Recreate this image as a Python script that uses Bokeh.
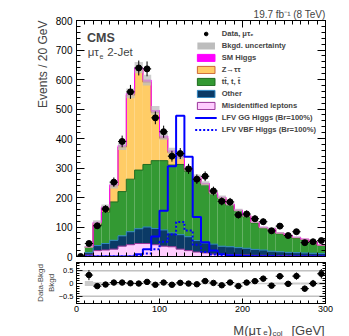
import numpy as np
from bokeh.plotting import figure
from bokeh.models import (ColumnDataSource, Legend, LegendItem, LinearAxis, Range1d,
                          SingleIntervalTicker, Span, Label, Title, CustomJSTickFormatter)
from bokeh.layouts import column
from bokeh.embed import file_html
from bokeh.resources import INLINE

# ---------------- data (bins of 10 GeV, lower edges 0..290) ----------------
bin_lo = list(range(0, 300, 10))
data   = [0, 44, 104, 161, 252, 390, 558, 639, 636, 470, 423, 340, 349, 297, 262,
          272, 222, 187, 185, 141, 144, 128, 118, 87, 103, 71, 84, 47, 50, 54]
fakes  = [0, 5, 20, 22, 25, 35, 40, 44, 44, 40, 35, 33, 25, 20, 15,
          12, 8, 7, 6, 5, 5, 4, 4, 3, 3, 3, 2, 2, 2, 2]
other  = [0, 8, 17, 22, 30, 35, 44, 50, 56, 55, 55, 47, 49, 47, 39,
          34, 34, 28, 27, 25, 23, 20, 18, 15, 13, 11, 11, 10, 9, 8]
ttbar  = [0, 18, 68, 106, 130, 150, 178, 199, 212, 230, 235, 230, 238, 221, 208,
          196, 170, 160, 140, 123, 107, 90, 74, 74, 61, 55, 49, 44, 37, 27]
ztt    = [0, 1, 8, 14, 54, 151, 285, 340, 279, 163, 76, 42, 23, 6, 5,
          4, 3, 5, 4, 3, 3, 2, 2, 2, 2, 2, 2, 2, 1, 1]
smh    = [0, 1, 3, 4, 4, 5, 6, 7, 7, 7, 7, 6, 5, 4, 3,
          2, 2, 1, 1, 1, 1, 1, 1, 1, 1, 1, 1, 1, 1, 1]
unc    = [0, 0.10, 0.06, 0.05, 0.05, 0.04, 0.03, 0.03, 0.03, 0.03, 0.03, 0.03, 0.03, 0.03, 0.03,
          0.03, 0.03, 0.03, 0.03, 0.03, 0.03, 0.03, 0.03, 0.04, 0.04, 0.04, 0.04, 0.04, 0.05, 0.05]
lfv_gg  = [0, 0, 0, 0, 0, 0, 0, 8, 25, 68, 155, 306, 477, 338, 134,
           48, 20, 8, 4, 3, 2, 1, 1, 1, 0, 0, 0, 0, 0, 0]
lfv_vbf = [0, 0, 0, 0, 0, 0, 0, 3, 10, 25, 50, 75, 117, 88, 40,
           15, 7, 3, 2, 1, 1, 0, 0, 0, 0, 0, 0, 0, 0, 0]

BW = 10
lo = np.array(bin_lo, float)
ctr = lo + BW / 2
edges = np.append(lo, lo[-1] + BW)
d = np.array(data, float)
c1 = np.array(fakes, float)
c2 = c1 + np.array(other, float)
c3 = c2 + np.array(ttbar, float)
c4 = c3 + np.array(ztt, float)
c5 = c4 + np.array(smh, float)
B = c5
u = np.array(unc, float)

FONT = "Liberation Sans"
C_FAKE, L_FAKE = "#FFCCFF", "#993399"
C_OTH, L_OTH = "#0B3A66", "#2E86C1"
C_TT, L_TT = "#339933", "#1E6B1E"
C_Z, L_Z = "#FFCC66", "#CC6633"
C_H = "#FF00FF"
C_UNC = "#BDBDBD"
C_SIG = "#0000FF"

W = 349
BL, BR = 76, 24
H1, H2, H3 = 261, 55, 20

blank = CustomJSTickFormatter(code="return ''")

def style_axis(ax, tin, min_in, size, labels=True):
    ax.major_tick_in = tin
    ax.major_tick_out = 0
    ax.minor_tick_in = min_in
    ax.minor_tick_out = 0
    ax.axis_line_color = "black"
    ax.major_tick_line_color = "black"
    ax.minor_tick_line_color = "black"
    ax.major_label_text_font = FONT
    ax.major_label_text_color = "black"
    if labels:
        ax.major_label_text_font_size = size
        ax.major_label_standoff = 4
    else:
        ax.formatter = blank
        ax.major_label_text_font_size = "1px"
        ax.major_label_standoff = 0

# ---------------- main panel ----------------
p = figure(width=W, height=H1, x_range=Range1d(0, 300), y_range=Range1d(0, 800),
           output_backend="svg", toolbar_location=None,
           min_border_left=BL, min_border_right=BR, min_border_top=20, min_border_bottom=5)
p.grid.visible = False
p.outline_line_color = "black"
p.background_fill_color = "white"
p.border_fill_color = "white"

xt = SingleIntervalTicker(interval=100, num_minor_ticks=10)
yt = SingleIntervalTicker(interval=100, num_minor_ticks=5)
p.xaxis.ticker = xt
p.yaxis.ticker = yt
style_axis(p.xaxis[0], 7, 4, "1px", labels=False)
style_axis(p.yaxis[0], 8, 4, "10px")
ax_r = LinearAxis(ticker=yt)
style_axis(ax_r, 8, 4, "1px", labels=False)
p.add_layout(ax_r, "right")
ax_t = LinearAxis(ticker=xt)
style_axis(ax_t, 7, 4, "1px", labels=False)
p.add_layout(ax_t, "above")

p.add_layout(Title(text="19.7 fb\u207b\u00b9 (8 TeV)", align="right", text_font=FONT,
                   text_font_size="10px", text_font_style="normal", standoff=1), "above")
p.add_layout(Title(text="Events / 20 GeV", align="right", text_font=FONT,
                   text_font_size="12px", text_font_style="normal", standoff=6), "left")

src = ColumnDataSource(dict(x=ctr, c1=c1, c2=c2, c3=c3, c4=c4, c5=c5,
                            ulo=B * (1 - u), uhi=B * (1 + u)))
p.vbar(x="x", width=BW, bottom=0, top="c1", source=src, fill_color=C_FAKE, line_color=None)
p.vbar(x="x", width=BW, bottom="c1", top="c2", source=src, fill_color=C_OTH, line_color=None)
p.vbar(x="x", width=BW, bottom="c2", top="c3", source=src, fill_color=C_TT, line_color=None)
p.vbar(x="x", width=BW, bottom="c3", top="c4", source=src, fill_color=C_Z, line_color=None)
p.vbar(x="x", width=BW, bottom="c4", top="c5", source=src, fill_color=C_H, line_color=None)

def stepy(arr):
    return np.append(arr, arr[-1])

p.step(x=edges[1:], y=stepy(c1)[1:], mode="after", line_color=L_FAKE, line_width=1)
p.step(x=edges[1:], y=stepy(c2)[1:], mode="after", line_color=L_OTH, line_width=1)
p.step(x=edges[1:], y=stepy(c3)[1:], mode="after", line_color=L_TT, line_width=1)
p.step(x=edges[1:], y=stepy(c4)[1:], mode="after", line_color=L_Z, line_width=1)
p.step(x=edges[1:], y=stepy(c5)[1:], mode="after", line_color=C_H, line_width=1)

p.vbar(x="x", width=BW, bottom="ulo", top="uhi", source=src,
       fill_color=C_UNC, fill_alpha=0.75, line_color=None)

r_gg = p.step(x=edges[1:], y=stepy(np.array(lfv_gg, float))[1:], mode="after",
              line_color=C_SIG, line_width=2)
r_vbf = p.step(x=edges[1:], y=stepy(np.array(lfv_vbf, float))[1:], mode="after",
               line_color=C_SIG, line_width=2, line_dash="2 2")

err = np.sqrt(d)
p.segment(x0=ctr, y0=d - err, x1=ctr, y1=d + err, line_color="black", line_width=1)
p.segment(x0=lo, y0=d, x1=lo + BW, y1=d, line_color="black", line_width=1)
r_data = p.scatter(x=ctr, y=d, size=6, marker="circle", fill_color="black", line_color="black")

# legend-only renderers (a single NaN row: nothing is drawn in the plot)
def legend_box(fill, line):
    nan = [np.nan]
    return p.quad(left=nan, right=nan, top=nan, bottom=nan, fill_color=fill,
                  line_color=line, line_width=1)

r_lunc = legend_box(C_UNC, None)
r_lh = legend_box(C_H, C_H)
r_lz = legend_box(C_Z, L_Z)
r_ltt = legend_box(C_TT, L_TT)
r_loth = legend_box(C_OTH, L_OTH)
r_lfake = legend_box(C_FAKE, L_FAKE)

items = [
    LegendItem(label="Data, \u03bc\u03c4\u2091", renderers=[r_data]),
    LegendItem(label="Bkgd. uncertainty", renderers=[r_lunc]),
    LegendItem(label="SM Higgs", renderers=[r_lh]),
    LegendItem(label="Z\u2192\u03c4\u03c4", renderers=[r_lz]),
    LegendItem(label="tt\u0304, t, t\u0304", renderers=[r_ltt]),
    LegendItem(label="Other", renderers=[r_loth]),
    LegendItem(label="Misidentified leptons", renderers=[r_lfake]),
    LegendItem(label="LFV GG Higgs (Br=100%)", renderers=[r_gg]),
    LegendItem(label="LFV VBF Higgs (Br=100%)", renderers=[r_vbf]),
]
leg = Legend(items=items, location="top_right", margin=9, padding=0, spacing=3,
             glyph_width=22, glyph_height=9, label_height=9, label_standoff=5,
             label_text_font=FONT, label_text_font_size="7.6px", label_text_font_style="bold",
             border_line_alpha=0, background_fill_alpha=0)
p.add_layout(leg)

p.add_layout(Label(x=12.6, y=741, text="CMS", text_font=FONT, text_font_size="12.5px",
                   text_font_style="bold", text_baseline="alphabetic"))
p.add_layout(Label(x=13.5, y=692, text="\u03bc\u03c4", text_font=FONT, text_font_size="11.5px",
                   text_baseline="alphabetic"))
p.add_layout(Label(x=27.8, y=679, text="e", text_font=FONT, text_font_size="7px",
                   text_baseline="alphabetic"))
p.add_layout(Label(x=37, y=692, text="2-Jet", text_font=FONT, text_font_size="11.5px",
                   text_baseline="alphabetic"))

# ---------------- ratio panel ----------------
q = figure(width=W, height=H2, x_range=p.x_range, y_range=Range1d(-0.79, 0.83),
           output_backend="svg", toolbar_location=None,
           min_border_left=BL, min_border_right=BR, min_border_top=1, min_border_bottom=13)
q.grid.visible = False
q.outline_line_color = "black"
xt2 = SingleIntervalTicker(interval=100, num_minor_ticks=10)
yt2 = SingleIntervalTicker(interval=0.5, num_minor_ticks=5)
q.xaxis.ticker = xt2
q.yaxis.ticker = yt2
style_axis(q.xaxis[0], 5, 3, "9px")
q.xaxis[0].major_label_standoff = 2
style_axis(q.yaxis[0], 6, 3, "7.5px")
q.yaxis[0].major_label_standoff = 3
axr2 = LinearAxis(ticker=yt2)
style_axis(axr2, 6, 3, "1px", labels=False)
q.add_layout(axr2, "right")
axt2 = LinearAxis(ticker=xt2)
style_axis(axt2, 5, 3, "1px", labels=False)
q.add_layout(axt2, "above")
q.add_layout(Title(text="Bkgd", align="center", text_font=FONT, text_font_size="8px",
                   text_font_style="normal", standoff=0), "left")
q.add_layout(Title(text="Data-Bkgd", align="center", text_font=FONT, text_font_size="8px",
                   text_font_style="normal", standoff=0), "left")

mask = B > 0
rat = d[mask] / B[mask] - 1
rerr = np.sqrt(d[mask]) / B[mask]
q.vbar(x=ctr[mask], width=BW, bottom=-u[mask], top=u[mask], fill_color="#CCCCCC",
       line_color=None)
for lvl in (0.5, -0.5):
    q.add_layout(Span(location=lvl, dimension="width", line_color="#444444",
                      line_dash="1 1", line_width=1))
q.segment(x0=ctr[mask], y0=rat - rerr, x1=ctr[mask], y1=rat + rerr, line_color="black")
q.segment(x0=lo[mask], y0=rat, x1=lo[mask] + BW, y1=rat, line_color="black")
q.scatter(x=ctr[mask], y=rat, size=5.5, marker="circle", fill_color="black", line_color="black")

# ---------------- x-axis title strip (frame aligned with the panels above) ----------------
s = figure(width=W, height=H3, x_range=p.x_range, y_range=Range1d(0, H3),
           output_backend="svg", toolbar_location=None, x_axis_type=None, y_axis_type=None,
           min_border_left=BL, min_border_right=BR, min_border_top=0, min_border_bottom=0)
s.grid.visible = False
s.outline_line_color = None
XF = "13px"
s.add_layout(Label(x=189, y=6, text="M(\u03bc\u03c4", text_font=FONT, text_font_size=XF,
                   text_baseline="alphabetic"))
s.add_layout(Label(x=225, y=4, text="e", text_font=FONT, text_font_size="8px",
                   text_baseline="alphabetic"))
s.add_layout(Label(x=230.5, y=6, text=")", text_font=FONT, text_font_size=XF,
                   text_baseline="alphabetic"))
s.add_layout(Label(x=236, y=3, text="col", text_font=FONT, text_font_size="8px",
                   text_baseline="alphabetic"))
s.add_layout(Label(x=299, y=6, text="[GeV]", text_font=FONT, text_font_size=XF,
                   text_align="right", text_baseline="alphabetic"))

lay = column(p, q, s, spacing=0)
open("out.html", "w").write(file_html(lay, INLINE))
